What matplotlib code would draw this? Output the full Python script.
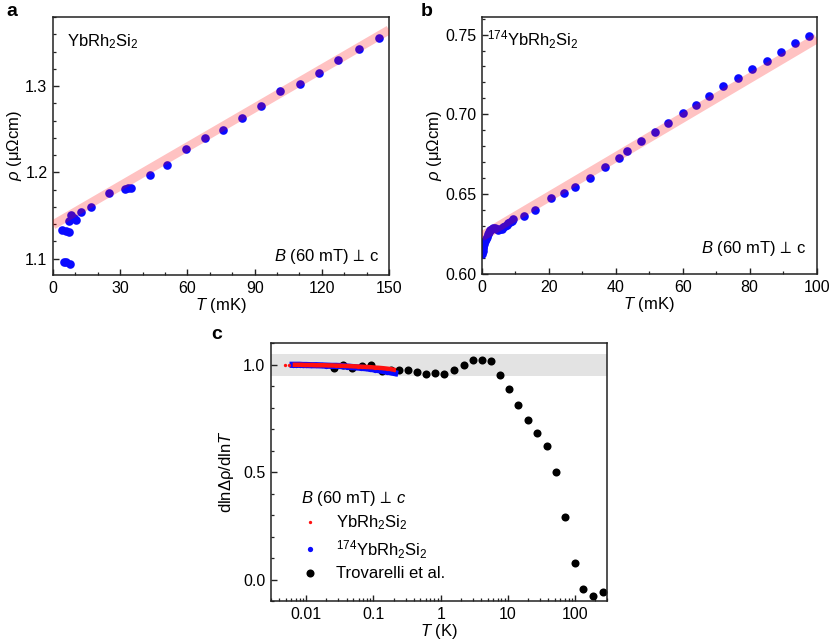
import matplotlib
matplotlib.use("Agg")
import matplotlib.pyplot as plt
from matplotlib.ticker import MultipleLocator, LogLocator, NullFormatter

plt.rcParams['font.family'] = ['Liberation Sans', 'DejaVu Sans']
plt.rcParams['mathtext.fontset'] = 'custom'
plt.rcParams['mathtext.rm'] = 'Liberation Sans'
plt.rcParams['mathtext.it'] = 'Liberation Sans:italic'
plt.rcParams['mathtext.bf'] = 'Liberation Sans:bold'
plt.rcParams['mathtext.fallback'] = 'stixsans'
plt.rcParams['font.size'] = 11

# panel a: YbRh2Si2, rho vs T (mK)
a_T = [4.2, 5.8, 7.0, 4.8, 5.9, 7.4, 7.1, 8.2, 9.5, 10.4, 12.6, 16.9, 25.0, 32.2, 33.4, 34.9,
       43.4, 51.1, 59.4, 67.7, 76.0, 84.5, 92.9, 101.3, 110.3, 118.8, 127.1, 136.5, 145.4]
a_rho = [1.1332, 1.132, 1.131, 1.0965, 1.0958, 1.0938, 1.143, 1.1505, 1.147, 1.1444, 1.154,
         1.160, 1.1757, 1.1807, 1.1815, 1.1822, 1.1973, 1.2089, 1.2266, 1.2398, 1.2494,
         1.2625, 1.2772, 1.2938, 1.3023, 1.3147, 1.3297, 1.3432, 1.356]
a_fit_T = [0, 150]
a_fit_rho = [1.139, 1.365]

# panel b: 174YbRh2Si2
b_T = [0.1, 0.2, 0.3, 0.4, 0.5, 0.7, 0.9, 1.2, 1.5, 1.8, 2.2, 2.6, 3.0, 3.5, 4.0, 4.5, 5.0,
       5.5, 6.0, 6.5, 7.0, 7.5, 8.0, 8.5, 9.0, 9.5, 12.5, 16.0, 20.6, 24.5, 27.8, 32.4,
       36.9, 40.9, 43.5, 47.6, 51.6, 55.7, 60.0, 64.0, 68.0, 72.1, 76.5, 80.8, 85.1, 89.3,
       93.5, 97.7]
b_rho = [0.6125, 0.6135, 0.6145, 0.616, 0.617, 0.619, 0.6205, 0.622, 0.6235, 0.625, 0.6265,
         0.6275, 0.628, 0.629, 0.629, 0.628, 0.6278, 0.628, 0.6285, 0.6295, 0.630, 0.631,
         0.6318, 0.6325, 0.6335, 0.6345, 0.6365, 0.6401, 0.6474, 0.651, 0.6544, 0.660,
         0.6668, 0.6726, 0.6772, 0.6831, 0.6887, 0.6948, 0.701, 0.7059, 0.7117, 0.7176,
         0.723, 0.7285, 0.7337, 0.7389, 0.7448, 0.749]
b_fit_T = [0, 100]
b_fit_rho = [0.6235, 0.7475]

# panel c: logarithmic derivative
red_T = [0.0049, 0.0055, 0.0068, 0.0075, 0.0085, 0.0095, 0.011, 0.0125, 0.014, 0.016, 0.018,
         0.021, 0.024, 0.028, 0.032, 0.037, 0.043, 0.05, 0.058, 0.067, 0.078, 0.09, 0.105,
         0.12, 0.14, 0.16, 0.18, 0.2]
red_v = [1.0, 1.0, 1.0, 1.0, 1.0, 0.999, 0.999, 0.999, 0.998, 0.998, 0.998, 0.997, 0.997,
         0.996, 0.996, 0.995, 0.994, 0.993, 0.992, 0.991, 0.99, 0.989, 0.987, 0.986, 0.984,
         0.982, 0.98, 0.977]
blue_T = [0.0063, 0.007, 0.008, 0.009, 0.01, 0.012, 0.014, 0.017, 0.02, 0.024, 0.028, 0.033,
          0.04, 0.047, 0.055, 0.065, 0.077, 0.09, 0.105, 0.12, 0.14, 0.16, 0.18, 0.21]
blue_v = [1.0, 1.0, 1.0, 0.999, 0.999, 0.998, 0.998, 0.997, 0.996, 0.995, 0.995, 0.994,
          0.992, 0.99, 0.988, 0.986, 0.984, 0.981, 0.978, 0.975, 0.971, 0.968, 0.965, 0.961]
trov_T = [0.0256, 0.0352, 0.0486, 0.0676, 0.0933, 0.133, 0.181, 0.2415, 0.326, 0.444, 0.605,
          0.82, 1.13, 1.60, 2.19, 3.02, 4.10, 5.6, 7.7, 10.5, 14.2, 19.9, 27.2, 37.9, 51.7,
          70.8, 100, 131, 185, 255]
trov_v = [0.984, 0.997, 0.984, 0.995, 1.0, 0.972, 0.977, 0.978, 0.977, 0.966, 0.958, 0.96,
          0.958, 0.977, 0.997, 1.023, 1.023, 1.019, 0.953, 0.886, 0.813, 0.743, 0.681, 0.622,
          0.499, 0.289, 0.079, -0.044, -0.076, -0.056]
c_xticks = [0.01, 0.1, 1, 10, 100]
c_xticklabels = ['0.01', '0.1', '1', '10', '100']

blue = '#0a0aff'
red = '#ff1010'
spine_c = '#222222'
tick_fs = 11.5
lab_fs = 12
field_txt = '$B$ (60 mT)$\\,{\\perp}\\,$c'


def style(ax):
    for s in ax.spines.values():
        s.set_linewidth(1.1)
        s.set_color(spine_c)
    ax.tick_params(which='both', direction='in', top=False, right=False, colors=spine_c,
                   labelcolor='black', labelsize=tick_fs)
    ax.tick_params(which='major', length=4.5, width=1, pad=4)
    ax.tick_params(which='minor', length=2.5, width=0.9)


fig = plt.figure(figsize=(8.3, 6.44), dpi=100)

# ---- a ----
ax = fig.add_axes([0.0639, 0.573, 0.4048, 0.4006])
ax.plot(a_T, a_rho, 'o', color=blue, ms=6.2, mec='none', zorder=2)
ax.plot(a_fit_T, a_fit_rho, '-', color='red', alpha=0.24, lw=6.5, solid_capstyle='butt', zorder=3)
ax.set_xlim(0, 150)
ax.set_ylim(1.081, 1.380)
ax.xaxis.set_major_locator(MultipleLocator(30))
ax.xaxis.set_minor_locator(MultipleLocator(10))
ax.yaxis.set_major_locator(MultipleLocator(0.1))
ax.yaxis.set_minor_locator(MultipleLocator(0.02))
style(ax)
ax.set_xlabel('$T$ (mK)', fontsize=lab_fs, labelpad=0)
ax.set_ylabel('$\\rho$ (μΩcm)', fontsize=lab_fs, labelpad=1)
ax.text(0.042, 0.905, 'YbRh$_2$Si$_2$', transform=ax.transAxes, fontsize=lab_fs, va='center')
ax.text(0.973, 0.07, field_txt, transform=ax.transAxes, fontsize=lab_fs,
        ha='right', va='center')
fig.text(0.008, 0.982, 'a', fontsize=14, fontweight='bold', va='center')

# ---- b ----
ax = fig.add_axes([0.5803, 0.5745, 0.4036, 0.3991])
ax.plot(b_T, b_rho, 'o', color=blue, ms=6.2, mec='none', zorder=2)
ax.plot(b_fit_T, b_fit_rho, '-', color='red', alpha=0.24, lw=7, solid_capstyle='butt', zorder=3)
ax.set_xlim(0, 100)
ax.set_ylim(0.60, 0.761)
ax.xaxis.set_major_locator(MultipleLocator(20))
ax.xaxis.set_minor_locator(MultipleLocator(10))
ax.yaxis.set_major_locator(MultipleLocator(0.05))
ax.yaxis.set_minor_locator(MultipleLocator(0.01))
ax.yaxis.set_major_formatter(plt.FormatStrFormatter('%.2f'))
style(ax)
ax.set_xlabel('$T$ (mK)', fontsize=lab_fs, labelpad=0)
ax.set_ylabel('$\\rho$ (μΩcm)', fontsize=lab_fs, labelpad=1)
ax.text(0.015, 0.91, '$^{174}$YbRh$_2$Si$_2$', transform=ax.transAxes, fontsize=lab_fs, va='center')
ax.text(0.97, 0.10, field_txt, transform=ax.transAxes, fontsize=lab_fs,
        ha='right', va='center')
fig.text(0.507, 0.982, 'b', fontsize=14, fontweight='bold', va='center')

# ---- c ----
ax = fig.add_axes([0.3265, 0.0668, 0.4052, 0.4001])
ax.axhspan(0.95, 1.05, color='#e3e3e3', lw=0, zorder=0)
ax.plot(trov_T, trov_v, 'o', color='black', ms=5.8, mec='none', zorder=2,
        label='Trovarelli et al.')
ax.plot(blue_T, blue_v, '-', color=blue, lw=4.5, zorder=3)
ax.plot(blue_T, blue_v, 'o', color=blue, ms=3.8, mec='none', zorder=3,
        label='$^{174}$YbRh$_2$Si$_2$')
ax.plot(red_T[2:], red_v[2:], '-', color=red, lw=3.2, zorder=4)
ax.plot(red_T, red_v, 'o', color=red, ms=2.4, mec='none', zorder=4,
        label='YbRh$_2$Si$_2$')
ax.set_xscale('log')
ax.set_xlim(0.003, 300)
ax.set_ylim(-0.1, 1.1)
ax.set_xticks(c_xticks, labels=c_xticklabels)
ax.xaxis.set_minor_locator(LogLocator(base=10, subs=range(2, 10), numticks=20))
ax.xaxis.set_minor_formatter(NullFormatter())
ax.yaxis.set_major_locator(MultipleLocator(0.5))
ax.yaxis.set_minor_locator(MultipleLocator(0.1))
ax.yaxis.set_major_formatter(plt.FormatStrFormatter('%.1f'))
style(ax)
ax.set_xlabel('$T$ (K)', fontsize=lab_fs, labelpad=0)
ax.set_ylabel('dlnΔρ/dln$T$', fontsize=lab_fs, labelpad=5)
h, l = ax.get_legend_handles_labels()
leg = ax.legend(h[::-1], l[::-1], title='$B$ (60 mT)$\\,{\\perp}\\,c$', loc='lower left',
                bbox_to_anchor=(0.07, 0.05), frameon=False, fontsize=lab_fs,
                title_fontsize=lab_fs, handlelength=1.0, handletextpad=1.1,
                labelspacing=0.35, alignment='left', borderaxespad=0)
fig.text(0.255, 0.48, 'c', fontsize=14, fontweight='bold', va='center')

fig.savefig('out.png', dpi=100)
